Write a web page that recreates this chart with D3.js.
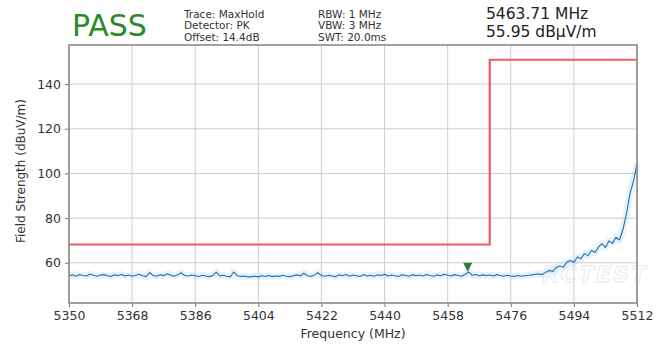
<!DOCTYPE html>
<html><head><meta charset="utf-8">
<script src="https://cdn.jsdelivr.net/npm/d3@7"></script>
<style>
html,body{margin:0;padding:0;background:#fff;}
svg{display:block;font-family:"DejaVu Sans",sans-serif;}
</style></head>
<body>
<svg id="chart" width="665" height="345"></svg>
<script>
// ---- data ----
const startFreq = 5350;   // MHz, sweep start (1 MHz per point)
const traceLevels = [
 54.2,54.6,54.0,54.8,54.3,54.1,54.9,54.4,54.0,54.5,54.7,54.2,53.9,54.6,54.3,54.8,54.1,54.5,54.0,54.4,
 54.9,54.2,53.8,55.6,54.3,54.0,54.7,54.2,55.1,54.4,54.0,54.6,55.5,54.3,54.1,54.5,54.2,53.9,54.4,54.1,
 53.8,54.3,55.8,54.1,54.4,54.0,53.7,55.9,54.2,53.9,54.1,53.6,53.8,54.0,53.7,54.2,53.9,54.3,53.8,54.1,
 53.9,54.4,54.0,53.8,54.2,54.6,54.1,55.3,54.2,53.9,54.5,55.6,54.3,54.0,54.4,54.1,53.8,54.6,54.2,54.8,
 54.0,54.5,54.2,53.9,54.7,54.1,54.4,54.0,54.6,54.3,54.9,54.1,54.5,54.2,53.9,54.6,54.3,54.0,54.7,54.2,
 54.5,54.1,54.8,54.3,54.0,54.6,54.2,54.9,54.4,54.1,54.7,54.3,54.0,54.9,55.9,54.4,54.8,54.2,54.6,54.3,
 54.5,54.1,54.7,54.3,54.0,54.4,54.1,53.9,54.3,54.0,54.2,54.4,54.6,54.9,
 55.0,54.7,55.8,56.6,56.1,57.9,58.6,58.0,60.3,61.0,60.2,62.6,61.8,64.1,63.2,65.5,64.6,67.0,68.6,66.9,
 69.8,68.7,71.4,70.2,75.0,82.0,91.0,96.5,104.5
];
const limitFreqs  = [5350, 5470, 5470, 5512];
const limitLevels = [68.2, 68.2, 150.9, 150.9];
const markerFreq = 5463.71, markerLevel = 55.95;
const xTicks = [5350,5368,5386,5404,5422,5440,5458,5476,5494,5512];
const yTicks = [60,80,100,120,140];
const headerLeft  = ["Trace: MaxHold","Detector: PK","Offset: 14.4dB"];
const headerMid   = ["RBW: 1 MHz","VBW: 3 MHz","SWT: 20.0ms"];
const headerRight = ["5463.71 MHz","55.95 dBµV/m"];
const verdict = "PASS";

// ---- layout ----
const svg = d3.select("#chart");
const L = 69, R = 637, T = 45, B = 303;
const x = d3.scaleLinear().domain([5350,5512]).range([L,R]);
const y = d3.scaleLinear().domain([42,157.5]).range([B,T]);

// grid
const grid = svg.append("g");
grid.selectAll("line.v").data(xTicks).join("line")
  .attr("x1",d=>x(d)).attr("x2",d=>x(d)).attr("y1",T).attr("y2",B)
  .attr("stroke","#cfcfcf").attr("stroke-width",1);
grid.selectAll("line.h").data(yTicks).join("line")
  .attr("y1",d=>y(d)).attr("y2",d=>y(d)).attr("x1",L).attr("x2",R)
  .attr("stroke","#cfcfcf").attr("stroke-width",1);

// watermark
svg.append("text").attr("x",x(5500)).attr("y",y(51.5)).attr("text-anchor","middle")
  .attr("font-size",22).attr("font-style","italic").attr("font-weight","bold")
  .attr("fill","none").attr("stroke","#dcdcdc").attr("stroke-width",0.8).attr("opacity",0.7)
  .attr("letter-spacing",2)
  .text("RCTEST");

// limit line
const limitData = limitFreqs.map((f,i)=>[f,limitLevels[i]]);
svg.append("path").datum(limitData)
  .attr("d", d3.line().x(d=>x(d[0])).y(d=>y(d[1])))
  .attr("fill","none").attr("stroke","#ee5a64").attr("stroke-width",2.2);

// trace
const traceData = traceLevels.map((v,i)=>[startFreq+i, v]);
const line = d3.line().x(d=>x(d[0])).y(d=>y(d[1]));
svg.append("path").datum(traceData).attr("d",line)
  .attr("fill","none").attr("stroke","#9fd0f3").attr("stroke-width",7).attr("opacity",0.25)
  .attr("stroke-linejoin","round");
svg.append("path").datum(traceData).attr("d",line)
  .attr("fill","none").attr("stroke","#1f6fae").attr("stroke-width",1.1)
  .attr("stroke-linejoin","round");

// marker
const mx = x(markerFreq), my = y(markerLevel);
svg.append("path").attr("d",`M${mx-4.5},${my-9}L${mx+4.5},${my-9}L${mx},${my}Z`)
  .attr("fill","#2e7d32");

// axes
const xAxis = d3.axisBottom(x).tickValues(xTicks).tickSize(4).tickPadding(4).tickFormat(d3.format("d"));
const yAxis = d3.axisLeft(y).tickValues(yTicks).tickSize(4).tickPadding(4);
const gx = svg.append("g").attr("transform",`translate(0,${B})`).call(xAxis);
const gy = svg.append("g").attr("transform",`translate(${L},0)`).call(yAxis);
[gx,gy].forEach(g=>{
  g.select(".domain").remove();
  g.selectAll(".tick line").attr("stroke","#777");
  g.selectAll(".tick text").attr("fill","#333").attr("font-size",12.5)
    .attr("font-family","DejaVu Sans, sans-serif");
});
// frame
svg.append("rect").attr("x",L).attr("y",T).attr("width",R-L).attr("height",B-T)
  .attr("fill","none").attr("stroke","#8a8a8a").attr("stroke-width",1.6);

// axis titles
svg.append("text").attr("x",(L+R)/2).attr("y",338).attr("text-anchor","middle")
  .attr("font-size",12.5).attr("fill","#333").text("Frequency (MHz)");
svg.append("text").attr("transform","translate(25,171) rotate(-90)").attr("text-anchor","middle")
  .attr("font-size",12).attr("fill","#333").text("Field Strength (dBuV/m)");

// header
svg.append("text").attr("x",72).attr("y",36).attr("font-size",30).attr("fill","#2a8a2a").text(verdict);
svg.append("g").selectAll("text").data(headerLeft).join("text")
  .attr("x",184).attr("y",(d,i)=>17.5+i*11.5).attr("font-size",10.5).attr("fill","#333").text(d=>d);
svg.append("g").selectAll("text").data(headerMid).join("text")
  .attr("x",318).attr("y",(d,i)=>17.5+i*11.5).attr("font-size",10.5).attr("fill","#333").text(d=>d);
svg.append("g").selectAll("text").data(headerRight).join("text")
  .attr("x",486).attr("y",(d,i)=>19+i*18).attr("font-size",15.5).attr("fill","#222").text(d=>d);
</script>
</body></html>
